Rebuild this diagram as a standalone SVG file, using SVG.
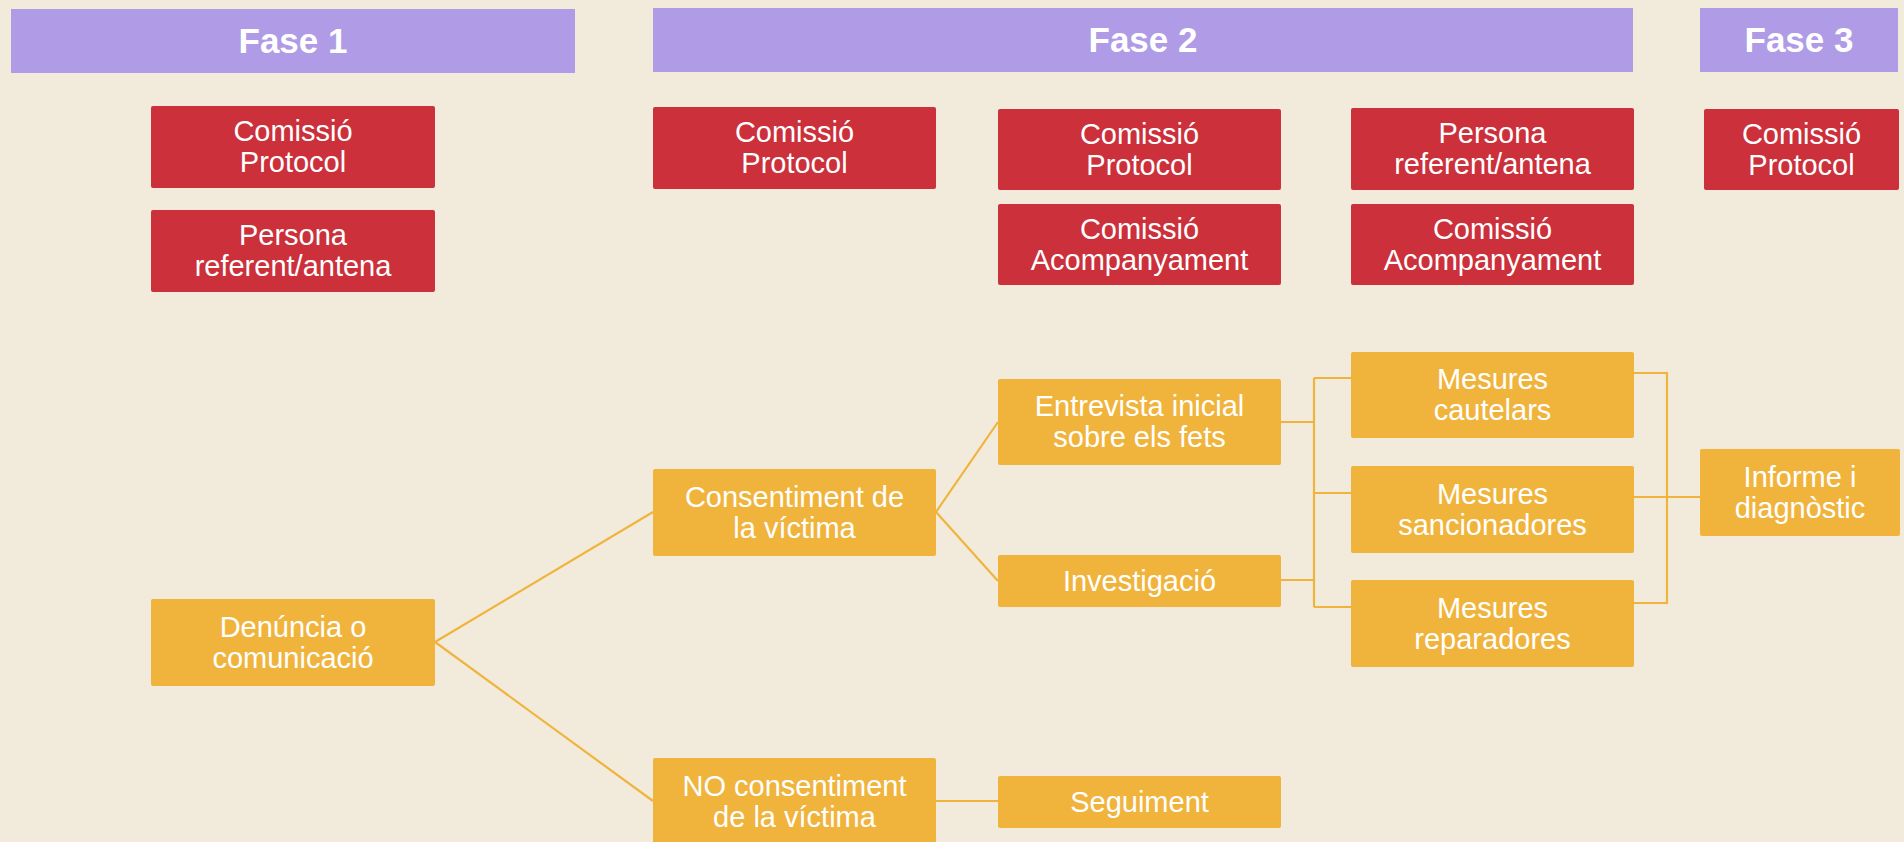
<svg xmlns="http://www.w3.org/2000/svg" width="1904" height="842" viewBox="0 0 1904 842">
<style>
.hdr{fill:#b09be6}
.red{fill:#cb303b}
.org{fill:#f0b43d}
.ht{font-family:"Liberation Sans",Arial,sans-serif;font-weight:bold;font-size:35px;fill:#ffffff;text-anchor:middle}
.t{font-family:"Liberation Sans",Arial,sans-serif;font-size:29px;fill:#ffffff;text-anchor:middle}
.c{fill:none;stroke:#f0b43d;stroke-width:2.2}
</style>
<rect width="1904" height="842" fill="#f2ebdc"/>
<g id="connectors">
<path class="c" d="M435 642 L653 512"/>
<path class="c" d="M435 642 L653 801"/>
<path class="c" d="M936 512 L998 422"/>
<path class="c" d="M936 512 L998 581"/>
<path class="c" d="M936 801 L998 801"/>
<path class="c" d="M1281 422 H1314"/>
<path class="c" d="M1281 580 H1314"/>
<path class="c" d="M1314 378 V607"/>
<path class="c" d="M1314 378 H1351"/>
<path class="c" d="M1314 493 H1351"/>
<path class="c" d="M1314 607 H1351"/>
<path class="c" d="M1634 373 H1667 V603 H1634"/>
<path class="c" d="M1634 497 H1700"/>
</g>
<g id="fase1"><rect class="hdr" x="11" y="9" width="564" height="64"/><text class="ht" x="293" y="53">Fase 1</text></g>
<g id="fase2"><rect class="hdr" x="653" y="8" width="980" height="64"/><text class="ht" x="1143" y="52">Fase 2</text></g>
<g id="fase3"><rect class="hdr" x="1700" y="8" width="198" height="64"/><text class="ht" x="1799" y="52">Fase 3</text></g>

<g id="f1-comissio-protocol"><rect class="red" x="151" y="106" width="284" height="82" rx="2"/><text class="t" x="293"><tspan x="293" y="141">Comissió</tspan><tspan x="293" y="172">Protocol</tspan></text></g>
<g id="f1-persona-referent"><rect class="red" x="151" y="210" width="284" height="82" rx="2"/><text class="t" x="293"><tspan x="293" y="245">Persona</tspan><tspan x="293" y="276">referent/antena</tspan></text></g>
<g id="f2-comissio-protocol-1"><rect class="red" x="653" y="107" width="283" height="82" rx="2"/><text class="t"><tspan x="794.5" y="142">Comissió</tspan><tspan x="794.5" y="173">Protocol</tspan></text></g>
<g id="f2-comissio-protocol-2"><rect class="red" x="998" y="109" width="283" height="81" rx="2"/><text class="t"><tspan x="1139.5" y="143.5">Comissió</tspan><tspan x="1139.5" y="174.5">Protocol</tspan></text></g>
<g id="f2-comissio-acompanyament-2"><rect class="red" x="998" y="204" width="283" height="81" rx="2"/><text class="t"><tspan x="1139.5" y="238.5">Comissió</tspan><tspan x="1139.5" y="269.5">Acompanyament</tspan></text></g>
<g id="f2-persona-referent-3"><rect class="red" x="1351" y="108" width="283" height="82" rx="2"/><text class="t"><tspan x="1492.5" y="143">Persona</tspan><tspan x="1492.5" y="174">referent/antena</tspan></text></g>
<g id="f2-comissio-acompanyament-3"><rect class="red" x="1351" y="204" width="283" height="81" rx="2"/><text class="t"><tspan x="1492.5" y="238.5">Comissió</tspan><tspan x="1492.5" y="269.5">Acompanyament</tspan></text></g>
<g id="f3-comissio-protocol"><rect class="red" x="1704" y="109" width="195" height="81" rx="2"/><text class="t"><tspan x="1801.5" y="143.5">Comissió</tspan><tspan x="1801.5" y="174.5">Protocol</tspan></text></g>

<g id="denuncia"><rect class="org" x="151" y="599" width="284" height="87" rx="2"/><text class="t"><tspan x="293" y="636.5">Denúncia o</tspan><tspan x="293" y="667.5">comunicació</tspan></text></g>
<g id="consentiment"><rect class="org" x="653" y="469" width="283" height="87" rx="2"/><text class="t"><tspan x="794.5" y="506.5">Consentiment de</tspan><tspan x="794.5" y="537.5">la víctima</tspan></text></g>
<g id="no-consentiment"><rect class="org" x="653" y="758" width="283" height="87" rx="2"/><text class="t"><tspan x="794.5" y="795.5">NO consentiment</tspan><tspan x="794.5" y="826.5">de la víctima</tspan></text></g>
<g id="entrevista"><rect class="org" x="998" y="379" width="283" height="86" rx="2"/><text class="t"><tspan x="1139.5" y="416">Entrevista inicial</tspan><tspan x="1139.5" y="447">sobre els fets</tspan></text></g>
<g id="investigacio"><rect class="org" x="998" y="555" width="283" height="52" rx="2"/><text class="t" x="1139.5" y="591">Investigació</text></g>
<g id="seguiment"><rect class="org" x="998" y="776" width="283" height="52" rx="2"/><text class="t" x="1139.5" y="812">Seguiment</text></g>
<g id="cautelars"><rect class="org" x="1351" y="352" width="283" height="86" rx="2"/><text class="t"><tspan x="1492.5" y="389">Mesures</tspan><tspan x="1492.5" y="420">cautelars</tspan></text></g>
<g id="sancionadores"><rect class="org" x="1351" y="466" width="283" height="87" rx="2"/><text class="t"><tspan x="1492.5" y="503.5">Mesures</tspan><tspan x="1492.5" y="534.5">sancionadores</tspan></text></g>
<g id="reparadores"><rect class="org" x="1351" y="580" width="283" height="87" rx="2"/><text class="t"><tspan x="1492.5" y="617.5">Mesures</tspan><tspan x="1492.5" y="648.5">reparadores</tspan></text></g>
<g id="informe"><rect class="org" x="1700" y="449" width="200" height="87" rx="2"/><text class="t"><tspan x="1800" y="486.5">Informe i</tspan><tspan x="1800" y="517.5">diagnòstic</tspan></text></g>
</svg>
